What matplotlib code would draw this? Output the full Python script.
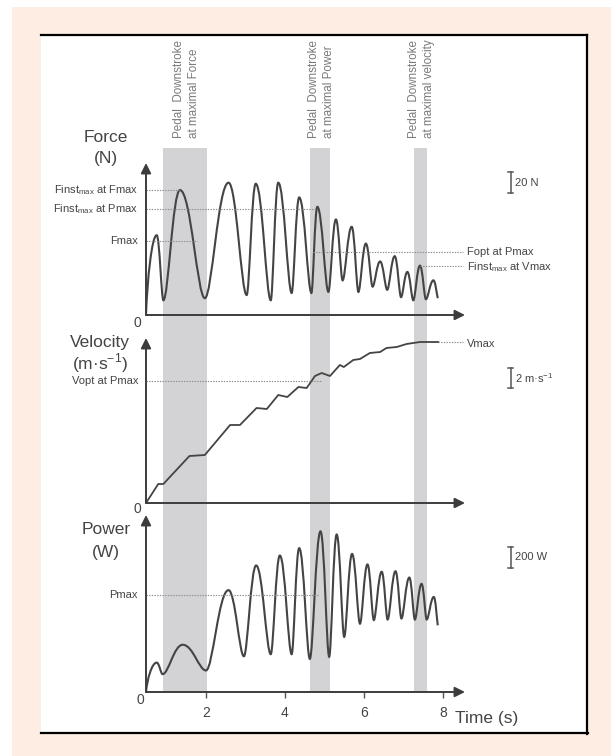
import matplotlib
matplotlib.use('Agg')
import matplotlib.pyplot as plt
from matplotlib.path import Path
from matplotlib.patches import PathPatch, Rectangle
from matplotlib.lines import Line2D
import matplotlib.transforms as mtransforms

plt.rcParams['font.family'] = ['Liberation Sans', 'DejaVu Sans']

# ---------------- data ----------------
force_t = [0.48, 0.75, 0.92, 1.34, 1.97, 2.57, 3.03, 3.26, 3.64, 3.83, 4.17, 4.36, 4.67, 4.82,
           5.10, 5.29, 5.46, 5.69, 5.86, 6.05, 6.22, 6.41, 6.59, 6.78, 6.94, 7.10, 7.25, 7.42,
           7.57, 7.76, 7.87]
force_n = [0, 76, 14, 119, 16, 126, 19, 125, 14, 126, 21, 112, 21, 103,
           22, 91, 33, 84, 22, 68, 27, 51, 24, 56, 17, 41, 14, 47,
           15, 33, 16]

vel_t = [0.48, 0.79, 0.92, 1.58, 1.97, 2.61, 2.86, 3.28, 3.54, 3.83, 4.06, 4.34, 4.55, 4.76,
         4.93, 5.14, 5.39, 5.49, 5.73, 5.90, 6.15, 6.41, 6.57, 6.83, 7.08, 7.42, 7.88]
vel_ms = [0, 1.9, 1.9, 4.7, 4.8, 7.8, 7.8, 9.5, 9.4, 10.8, 10.6, 11.6, 11.5, 12.7,
          13.0, 12.7, 13.8, 13.6, 14.3, 14.4, 15.0, 15.1, 15.5, 15.6, 15.9, 16.1, 16.1]

pow_t = [0.48, 0.75, 0.90, 1.41, 2.00, 2.57, 2.96, 3.27, 3.64, 3.87, 4.17, 4.36, 4.63, 4.90,
         5.12, 5.31, 5.50, 5.70, 5.90, 6.09, 6.25, 6.45, 6.60, 6.80, 6.95, 7.15, 7.29, 7.46,
         7.59, 7.77, 7.87]
pow_w = [0, 280, 170, 450, 205, 970, 340, 1205, 360, 1300, 360, 1370, 315, 1530,
         335, 1500, 525, 1315, 650, 1215, 685, 1145, 690, 1150, 700, 1090, 690, 1030,
         690, 905, 635]

bands = [(0.91, 2.03), (4.63, 5.14), (7.27, 7.59)]
band_labels = ['Pedal  Downstroke\nat maximal Force',
               'Pedal  Downstroke\nat maximal Power',
               'Pedal  Downstroke\nat maximal velocity']

time_ticks = [2, 4, 6, 8]
XMIN, XMAX = 0.48, 8.56

# reference levels
F_inst_Fmax, F_inst_Pmax, F_max, F_opt_Pmax, F_inst_Vmax = 119, 101, 70.5, 60, 46.7
V_opt_Pmax, V_max = 12.2, 16.1
P_max = 920

# ---------------- figure ----------------
W, H = 611, 756
def fx(x): return x / W
def fy(y): return 1 - y / H

fig = plt.figure(figsize=(W / 100, H / 100), dpi=100)
fig.patch.set_facecolor('white')
fig.add_artist(Rectangle((fx(12), fy(756)), fx(611) - fx(12), fy(7) - fy(756),
                         transform=fig.transFigure, facecolor='#fdede3', edgecolor='none', zorder=-3))
fig.add_artist(Rectangle((fx(41), fy(733)), fx(587) - fx(41), fy(35) - fy(733),
                         transform=fig.transFigure, facecolor='white', edgecolor='none', zorder=-2))
for (x0, y0, x1, y1) in [(41, 35, 587, 35), (587, 35, 587, 733.7), (41, 733, 587.7, 733)]:
    fig.add_artist(Line2D([fx(x0), fx(x1)], [fy(y0), fy(y1)], transform=fig.transFigure,
                          color='black', lw=1.6, zorder=-1))

AXL, AXR = 146, 465
# background axes for the grey bands
bg = fig.add_axes([fx(AXL), fy(692), (AXR - AXL) / W, (692 - 148) / H])
bg.set_xlim(XMIN, XMAX)
bg.set_ylim(0, 1)
bg.axis('off')
for (a, b) in bands:
    bg.axvspan(a, b, color='#d3d3d5', lw=0)
btrans = mtransforms.blended_transform_factory(bg.transData, fig.transFigure)
for (a, b), lab in zip(bands, band_labels):
    bg.text((a + b) / 2 + 0.03, fy(138), lab, transform=btrans, rotation=90, ha='center', va='bottom',
            multialignment='left', fontsize=8.4, color='#7a7a7a', linespacing=1.35)

AXC = '#3c3c3c'
CURVE = '#444444'
TXT = '#444444'


def make_panel(top, bottom, ymax):
    ax = fig.add_axes([fx(AXL), fy(bottom), (AXR - AXL) / W, (bottom - top) / H])
    ax.set_xlim(XMIN, XMAX)
    ax.set_ylim(0, ymax)
    ax.patch.set_alpha(0)
    for s in ax.spines.values():
        s.set_visible(False)
    ax.set_xticks([])
    ax.set_yticks([])
    ap = dict(arrowstyle='-|>', color=AXC, lw=1.4, mutation_scale=15, shrinkA=0, shrinkB=0)
    ax.annotate('', xy=(1, 0), xytext=(0, 0), xycoords='axes fraction', arrowprops=ap)
    ax.annotate('', xy=(0, 1), xytext=(0, 0), xycoords='axes fraction', arrowprops=ap)
    return ax


def smooth_path(ts, ys, k_hi=0.44, k_lo=0.30):
    """Cubic Bezier through the turning points, horizontal tangent at each."""
    n = len(ts)

    def kind(i):
        if i == 0 or i == n - 1:
            return k_lo
        return k_hi if ys[i] > ys[i - 1] else k_lo

    verts = [(ts[0], ys[0])]
    codes = [Path.MOVETO]
    for i in range(n - 1):
        dt = ts[i + 1] - ts[i]
        if i == 0:
            c1 = (ts[0] + 0.12 * dt, ys[0] + 0.45 * (ys[1] - ys[0]))
        else:
            c1 = (ts[i] + kind(i) * dt, ys[i])
        if i + 1 == n - 1:
            c2 = (ts[i + 1] - 0.25 * dt, ys[i + 1] + 0.25 * (ys[i] - ys[i + 1]))
        else:
            c2 = (ts[i + 1] - kind(i + 1) * dt, ys[i + 1])
        verts += [c1, c2, (ts[i + 1], ys[i + 1])]
        codes += [Path.CURVE4] * 3
    return Path(verts, codes)


def ref_line(ax, x0, x1, y):
    ax.plot([x0, x1], [y, y], ls=(0, (1.2, 1.2)), color='#8a8a8a', lw=0.8, clip_on=False)


def left_label(ax, y, s):
    tr = mtransforms.blended_transform_factory(fig.transFigure, ax.transData)
    ax.text(fx(138), y, s, transform=tr, ha='right', va='center', fontsize=8, color=TXT)


def right_label(ax, y, s):
    tr = mtransforms.blended_transform_factory(fig.transFigure, ax.transData)
    ax.text(fx(467), y, s, transform=tr, ha='left', va='center', fontsize=8, color=TXT)


def scale_bar(ax, y0, y1, s):
    x = 9.72
    kw = dict(color='#555555', lw=1.1, clip_on=False)
    ax.plot([x, x], [y0, y1], **kw)
    ax.plot([x - 0.06, x + 0.06], [y0, y0], **kw)
    ax.plot([x - 0.06, x + 0.06], [y1, y1], **kw)
    tr = mtransforms.blended_transform_factory(fig.transFigure, ax.transData)
    ax.text(fx(515), (y0 + y1) / 2, s, transform=tr, ha='left', va='center', fontsize=8, color=TXT)


# ---- Force ----
axF = make_panel(163, 315, 152 / 1.05)
axF.add_patch(PathPatch(smooth_path(force_t, force_n), facecolor='none', edgecolor=CURVE, lw=1.5))
ref_line(axF, XMIN, 1.34, F_inst_Fmax)
ref_line(axF, XMIN, 4.82, F_inst_Pmax)
ref_line(axF, XMIN, 1.77, F_max)
ref_line(axF, 4.70, 8.50, F_opt_Pmax)
ref_line(axF, 7.42, 8.50, F_inst_Vmax)
left_label(axF, F_inst_Fmax, 'Finst$_{\\mathregular{max}}$ at Fmax')
left_label(axF, F_inst_Pmax, 'Finst$_{\\mathregular{max}}$ at Pmax')
left_label(axF, F_max, 'Fmax')
right_label(axF, F_opt_Pmax, 'Fopt at Pmax')
right_label(axF, F_inst_Vmax - 1.5, 'Finst$_{\\mathregular{max}}$ at Vmax')
scale_bar(axF, 116, 136, '20 N')

# ---- Velocity ----
axV = make_panel(338, 503, 16.5)
axV.plot(vel_t, vel_ms, color=CURVE, lw=1.3, solid_joinstyle='round')
ref_line(axV, XMIN, 4.91, V_opt_Pmax)
ref_line(axV, 7.88, 8.50, V_max)
left_label(axV, V_opt_Pmax, 'Vopt at Pmax')
right_label(axV, V_max - 0.2, 'Vmax')
scale_bar(axV, 11.5, 13.5, 'm·s$^{\\mathregular{-1}}$'.join(['2 ', '']))

# ---- Power ----
axP = make_panel(515, 692, 177 / 0.105)
axP.add_patch(PathPatch(smooth_path(pow_t, pow_w), facecolor='none', edgecolor=CURVE, lw=1.5))
ref_line(axP, XMIN, 4.84, P_max)
left_label(axP, P_max, 'Pmax')
scale_bar(axP, 1181, 1381, '200 W')
axP.set_xticks(time_ticks)
axP.set_xticklabels([str(t) for t in time_ticks])
axP.tick_params(axis='x', direction='out', length=4, width=1, color='#555555',
                labelsize=10, labelcolor=TXT, pad=6)

# ---- axis titles and zeros ----
fig.text(fx(106), fy(137), 'Force', ha='center', va='center', fontsize=12.5, color=TXT)
fig.text(fx(106), fy(158), '(N)', ha='center', va='center', fontsize=12.5, color=TXT)
fig.text(fx(100), fy(343), 'Velocity', ha='center', va='center', fontsize=12.5, color=TXT)
fig.text(fx(100), fy(363), '(m·s$^{\\mathregular{-1}}$)', ha='center', va='center', fontsize=12.5, color=TXT)
fig.text(fx(106), fy(529), 'Power', ha='center', va='center', fontsize=12.5, color=TXT)
fig.text(fx(106), fy(552), '(W)', ha='center', va='center', fontsize=12.5, color=TXT)
fig.text(fx(455), fy(718), 'Time (s)', ha='left', va='center', fontsize=12.5, color=TXT)
for (x, y) in [(137, 323), (137, 509), (140, 700)]:
    fig.text(fx(x), fy(y), '0', ha='center', va='center', fontsize=10, color=TXT)

fig.savefig('out.png', dpi=100)
